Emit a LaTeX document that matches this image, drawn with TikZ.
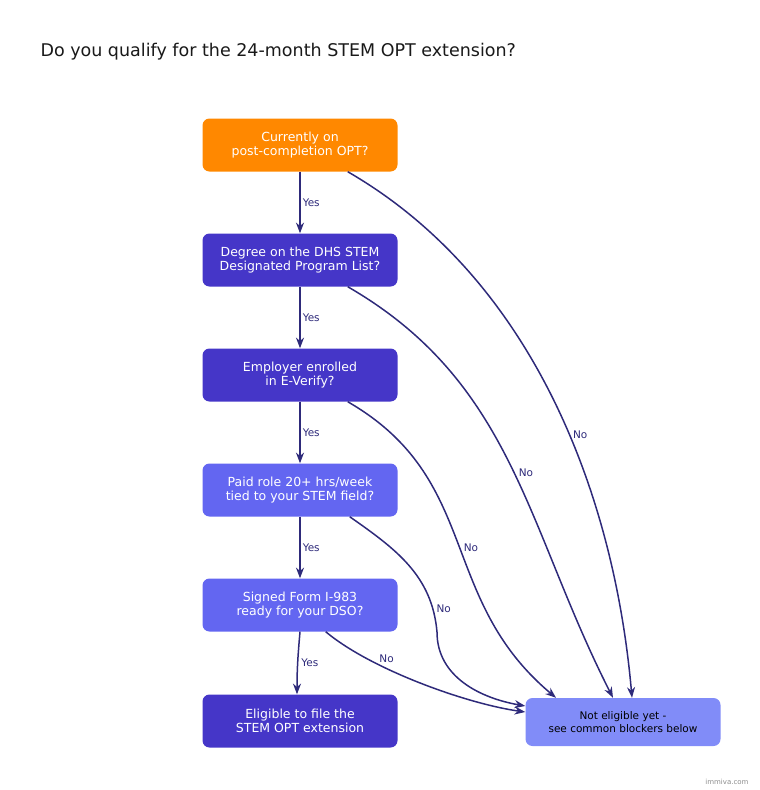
\documentclass[tikz,border=0pt]{standalone}
\usepackage{fontspec}
\setmainfont{DejaVu Sans}
\usetikzlibrary{arrows.meta,positioning}
\definecolor{qorange}{HTML}{FF8800}
\definecolor{qdeep}{HTML}{4536C8}
\definecolor{qmid}{HTML}{6366F1}
\definecolor{qsoft}{HTML}{818CF8}
\definecolor{qline}{HTML}{2E2A7A}
\begin{document}
\begin{tikzpicture}[
    x=1pt,y=-1pt,
    qbox/.style={rounded corners=7pt,minimum width=195pt,minimum height=53pt,
      align=center,text=white,font=\fontsize{12.5}{14}\selectfont},
    arrowtip/.style={-{Stealth[scale=1.1]},draw=qline,line width=1.5pt},
    lbl/.style={text=qline,font=\fontsize{10.5}{12}\selectfont,inner sep=1pt}
  ]
    \useasboundingbox (0,0) rectangle (760,790);
    \node[anchor=west,font=\fontsize{17.5}{20}\selectfont,text=black!90] (Title) at (37,52)
      {Do you qualify for the 24-month STEM OPT extension?};

    \node[qbox,fill=qorange] (QOpt) at (300,145) {Currently on\\post-completion OPT?};
    \node[qbox,fill=qdeep] (QDegree) at (300,260) {Degree on the DHS STEM\\Designated Program List?};
    \node[qbox,fill=qdeep] (QVerify) at (300,375) {Employer enrolled\\in E-Verify?};
    \node[qbox,fill=qmid] (QRole) at (300,490) {Paid role 20+ hrs/week\\tied to your STEM field?};
    \node[qbox,fill=qmid] (QForm) at (300,605) {Signed Form I-983\\ready for your DSO?};
    \node[qbox,fill=qdeep] (Eligible) at (300,721) {Eligible to file the\\STEM OPT extension};
    \node[qbox,fill=qsoft,text=black,minimum height=48pt,font=\fontsize{10.5}{13}\selectfont]
      (NotYet) at (623,722) {Not eligible yet -\\see common blockers below};
    \coordinate (Bend) at (437,632);

    \draw[arrowtip] (QOpt) -- (QDegree) node[lbl,midway,right=1pt] {Yes};
    \draw[arrowtip] (QDegree) -- (QVerify) node[lbl,midway,right=1pt] {Yes};
    \draw[arrowtip] (QVerify) -- (QRole) node[lbl,midway,right=1pt] {Yes};
    \draw[arrowtip] (QRole) -- (QForm) node[lbl,midway,right=1pt] {Yes};
    \draw[arrowtip] (QForm.south) to[out=-95,in=90]
      node[lbl,midway,right=2pt] {Yes} ([xshift=-3pt]Eligible.north);

    \draw[arrowtip] ([xshift=-50pt]QOpt.south east) to[out=-30,in=95,looseness=0.9]
      node[lbl,pos=0.57,right=2pt] {No} ([xshift=9pt]NotYet.north);
    \draw[arrowtip] ([xshift=-50pt]QDegree.south east) to[out=-30,in=117,looseness=1.0]
      node[lbl,pos=0.52,right=3pt] {No} ([xshift=-10pt]NotYet.north);
    \draw[arrowtip] ([xshift=-50pt]QVerify.south east) to[out=-30,in=140,looseness=1.1]
      node[lbl,pos=0.52,right=2pt] {No} ([xshift=-67pt]NotYet.north);
    \draw[arrowtip] ([xshift=-48pt]QRole.south east) to[out=-35,in=95]
      node[lbl,pos=0.85,right=2pt] {No} (Bend) to[out=-90,in=170] ([yshift=16pt]NotYet.west);
    \draw[arrowtip] ([xshift=-72pt]QForm.south east) to[out=-40,in=172,looseness=0.7]
      node[lbl,pos=0.3,above right=0pt] {No} ([yshift=10pt]NotYet.west);

    \node[anchor=east,text=black!45,font=\fontsize{7}{8}\selectfont] (Brand) at (752,782) {immiva.com};
\end{tikzpicture}
\end{document}
